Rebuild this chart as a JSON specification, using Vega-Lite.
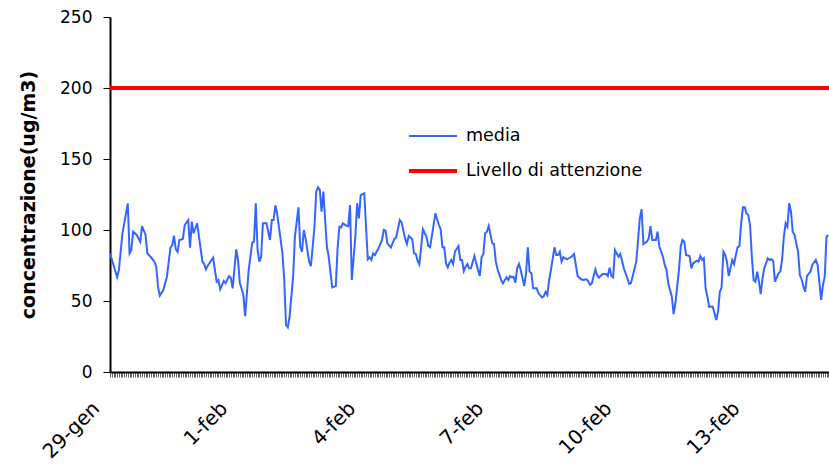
{
"$schema":"https://vega.github.io/schema/vega-lite/v6.json",
"width":719,"height":355,
"autosize":{"type":"none"},
"padding":{"left":110,"top":17,"right":0,"bottom":92},
"background":"white",
"config":{"view":{"stroke":null},"font":"DejaVu Sans"},
"data":{"values":[
{"s":"Livello di attenzione","t":"2010-01-29T00:00","v":200},{"s":"Livello di attenzione","t":"2010-02-14T20:24","v":200},
{"s":"media","t":"2010-01-29T00:00","v":83.6},{"s":"media","t":"2010-01-29T04:00","v":66.7},{"s":"media","t":"2010-01-29T05:00","v":71.8},{"s":"media","t":"2010-01-29T07:00","v":97.7},{"s":"media","t":"2010-01-29T10:00","v":118.8},{"s":"media","t":"2010-01-29T11:00","v":83.6},{"s":"media","t":"2010-01-29T12:00","v":85.9},{"s":"media","t":"2010-01-29T13:00","v":98.8},{"s":"media","t":"2010-01-29T15:00","v":96.5},{"s":"media","t":"2010-01-29T17:00","v":91.8},{"s":"media","t":"2010-01-29T18:00","v":102.8},{"s":"media","t":"2010-01-29T20:00","v":96.5},{"s":"media","t":"2010-01-29T21:00","v":83.6},{"s":"media","t":"2010-01-29T23:00","v":80.8},
{"s":"media","t":"2010-01-30T01:00","v":77.7},{"s":"media","t":"2010-01-30T02:00","v":74.2},{"s":"media","t":"2010-01-30T03:00","v":60.1},{"s":"media","t":"2010-01-30T04:00","v":53.8},{"s":"media","t":"2010-01-30T06:00","v":57.7},{"s":"media","t":"2010-01-30T08:00","v":67.1},{"s":"media","t":"2010-01-30T10:00","v":87.5},{"s":"media","t":"2010-01-30T11:00","v":89.4},{"s":"media","t":"2010-01-30T12:00","v":96},{"s":"media","t":"2010-01-30T13:00","v":86.4},{"s":"media","t":"2010-01-30T14:00","v":84.7},{"s":"media","t":"2010-01-30T15:00","v":93},{"s":"media","t":"2010-01-30T17:00","v":93.7},{"s":"media","t":"2010-01-30T18:00","v":103.5},{"s":"media","t":"2010-01-30T20:00","v":107},{"s":"media","t":"2010-01-30T21:00","v":87.5},{"s":"media","t":"2010-01-30T22:00","v":105.8},{"s":"media","t":"2010-01-30T23:00","v":97.7},
{"s":"media","t":"2010-01-31T01:00","v":104.7},{"s":"media","t":"2010-01-31T04:00","v":77.7},{"s":"media","t":"2010-01-31T05:00","v":76},{"s":"media","t":"2010-01-31T06:00","v":72.3},{"s":"media","t":"2010-01-31T07:00","v":74.9},{"s":"media","t":"2010-01-31T10:00","v":80.5},{"s":"media","t":"2010-01-31T12:00","v":63.6},{"s":"media","t":"2010-01-31T13:00","v":64.8},{"s":"media","t":"2010-01-31T14:00","v":58.2},{"s":"media","t":"2010-01-31T16:00","v":64.1},{"s":"media","t":"2010-01-31T17:00","v":62.5},{"s":"media","t":"2010-01-31T19:00","v":67.6},{"s":"media","t":"2010-01-31T20:00","v":66},{"s":"media","t":"2010-01-31T21:00","v":58.9},{"s":"media","t":"2010-01-31T23:00","v":86.4},
{"s":"media","t":"2010-02-01T00:00","v":78.9},{"s":"media","t":"2010-02-01T01:00","v":62.9},{"s":"media","t":"2010-02-01T03:00","v":54.2},{"s":"media","t":"2010-02-01T04:00","v":39.4},{"s":"media","t":"2010-02-01T06:00","v":71.8},{"s":"media","t":"2010-02-01T08:00","v":91.1},{"s":"media","t":"2010-02-01T09:00","v":91.8},{"s":"media","t":"2010-02-01T10:00","v":118.8},{"s":"media","t":"2010-02-01T11:00","v":85.9},{"s":"media","t":"2010-02-01T12:00","v":77.7},{"s":"media","t":"2010-02-01T13:00","v":81.2},{"s":"media","t":"2010-02-01T14:00","v":104.7},{"s":"media","t":"2010-02-01T16:00","v":104.7},{"s":"media","t":"2010-02-01T18:00","v":93},{"s":"media","t":"2010-02-01T19:00","v":107},{"s":"media","t":"2010-02-01T20:00","v":107},{"s":"media","t":"2010-02-01T21:00","v":117.4},{"s":"media","t":"2010-02-01T22:00","v":111.7},
{"s":"media","t":"2010-02-02T01:00","v":83.6},{"s":"media","t":"2010-02-02T02:00","v":64.8},{"s":"media","t":"2010-02-02T03:00","v":33.1},{"s":"media","t":"2010-02-02T04:00","v":31.5},{"s":"media","t":"2010-02-02T05:00","v":38.9},{"s":"media","t":"2010-02-02T07:00","v":67.1},{"s":"media","t":"2010-02-02T08:00","v":95.3},{"s":"media","t":"2010-02-02T10:00","v":116},{"s":"media","t":"2010-02-02T11:00","v":88.2},{"s":"media","t":"2010-02-02T12:00","v":84.7},{"s":"media","t":"2010-02-02T13:00","v":100},{"s":"media","t":"2010-02-02T14:00","v":94.1},{"s":"media","t":"2010-02-02T16:00","v":77.7},{"s":"media","t":"2010-02-02T17:00","v":74.6},{"s":"media","t":"2010-02-02T19:00","v":102.3},{"s":"media","t":"2010-02-02T20:00","v":127},{"s":"media","t":"2010-02-02T21:00","v":130},{"s":"media","t":"2010-02-02T22:00","v":128.2},{"s":"media","t":"2010-02-02T23:00","v":112.9},
{"s":"media","t":"2010-02-03T00:00","v":127},{"s":"media","t":"2010-02-03T02:00","v":88.2},{"s":"media","t":"2010-02-03T03:00","v":81.2},{"s":"media","t":"2010-02-03T05:00","v":59.6},{"s":"media","t":"2010-02-03T07:00","v":60.6},{"s":"media","t":"2010-02-03T08:00","v":87.1},{"s":"media","t":"2010-02-03T09:00","v":102.3},{"s":"media","t":"2010-02-03T10:00","v":101.9},{"s":"media","t":"2010-02-03T11:00","v":104.7},{"s":"media","t":"2010-02-03T13:00","v":103},{"s":"media","t":"2010-02-03T14:00","v":102.8},{"s":"media","t":"2010-02-03T15:00","v":117.6},{"s":"media","t":"2010-02-03T16:00","v":64.8},{"s":"media","t":"2010-02-03T18:00","v":95.3},{"s":"media","t":"2010-02-03T19:00","v":118.8},{"s":"media","t":"2010-02-03T20:00","v":108.2},{"s":"media","t":"2010-02-03T21:00","v":124.6},{"s":"media","t":"2010-02-03T23:00","v":125.8},
{"s":"media","t":"2010-02-04T01:00","v":79.4},{"s":"media","t":"2010-02-04T02:00","v":80.8},{"s":"media","t":"2010-02-04T03:00","v":78.9},{"s":"media","t":"2010-02-04T04:00","v":83.6},{"s":"media","t":"2010-02-04T05:00","v":82.4},{"s":"media","t":"2010-02-04T07:00","v":87.1},{"s":"media","t":"2010-02-04T09:00","v":93},{"s":"media","t":"2010-02-04T10:00","v":100},{"s":"media","t":"2010-02-04T11:00","v":99.5},{"s":"media","t":"2010-02-04T12:00","v":90.6},{"s":"media","t":"2010-02-04T14:00","v":87.8},{"s":"media","t":"2010-02-04T16:00","v":93.7},{"s":"media","t":"2010-02-04T17:00","v":94.9},{"s":"media","t":"2010-02-04T19:00","v":107},{"s":"media","t":"2010-02-04T20:00","v":105.4},{"s":"media","t":"2010-02-04T22:00","v":94.1},{"s":"media","t":"2010-02-04T23:00","v":90.1},
{"s":"media","t":"2010-02-05T00:00","v":95.8},{"s":"media","t":"2010-02-05T02:00","v":93.5},{"s":"media","t":"2010-02-05T03:00","v":83.6},{"s":"media","t":"2010-02-05T04:00","v":83.1},{"s":"media","t":"2010-02-05T05:00","v":78.4},{"s":"media","t":"2010-02-05T06:00","v":75.8},{"s":"media","t":"2010-02-05T08:00","v":100.5},{"s":"media","t":"2010-02-05T10:00","v":95.3},{"s":"media","t":"2010-02-05T11:00","v":88.7},{"s":"media","t":"2010-02-05T12:00","v":87.8},{"s":"media","t":"2010-02-05T13:00","v":95.3},{"s":"media","t":"2010-02-05T15:00","v":111.7},{"s":"media","t":"2010-02-05T17:00","v":103.5},{"s":"media","t":"2010-02-05T18:00","v":100.5},{"s":"media","t":"2010-02-05T19:00","v":87.8},{"s":"media","t":"2010-02-05T20:00","v":87.8},{"s":"media","t":"2010-02-05T21:00","v":76.5},{"s":"media","t":"2010-02-05T22:00","v":73.7},{"s":"media","t":"2010-02-05T23:00","v":77},
{"s":"media","t":"2010-02-06T00:00","v":78.9},{"s":"media","t":"2010-02-06T01:00","v":76},{"s":"media","t":"2010-02-06T02:00","v":84.7},{"s":"media","t":"2010-02-06T04:00","v":88.7},{"s":"media","t":"2010-02-06T05:00","v":78.9},{"s":"media","t":"2010-02-06T06:00","v":78.9},{"s":"media","t":"2010-02-06T07:00","v":71.1},{"s":"media","t":"2010-02-06T08:00","v":74.2},{"s":"media","t":"2010-02-06T09:00","v":76},{"s":"media","t":"2010-02-06T10:00","v":73},{"s":"media","t":"2010-02-06T11:00","v":73},{"s":"media","t":"2010-02-06T13:00","v":81.7},{"s":"media","t":"2010-02-06T14:00","v":76.5},{"s":"media","t":"2010-02-06T15:00","v":71.8},{"s":"media","t":"2010-02-06T16:00","v":67.6},{"s":"media","t":"2010-02-06T17:00","v":80.8},{"s":"media","t":"2010-02-06T18:00","v":83.1},{"s":"media","t":"2010-02-06T19:00","v":97.7},{"s":"media","t":"2010-02-06T20:00","v":98.8},{"s":"media","t":"2010-02-06T21:00","v":102.8},{"s":"media","t":"2010-02-06T23:00","v":90.6},
{"s":"media","t":"2010-02-07T00:00","v":90.1},{"s":"media","t":"2010-02-07T01:00","v":77.7},{"s":"media","t":"2010-02-07T02:00","v":72.3},{"s":"media","t":"2010-02-07T04:00","v":64.8},{"s":"media","t":"2010-02-07T05:00","v":62.5},{"s":"media","t":"2010-02-07T07:00","v":66.7},{"s":"media","t":"2010-02-07T08:00","v":64.8},{"s":"media","t":"2010-02-07T09:00","v":67.6},{"s":"media","t":"2010-02-07T10:00","v":66.7},{"s":"media","t":"2010-02-07T11:00","v":67.1},{"s":"media","t":"2010-02-07T12:00","v":62.9},{"s":"media","t":"2010-02-07T13:00","v":73},{"s":"media","t":"2010-02-07T14:00","v":76},{"s":"media","t":"2010-02-07T15:00","v":71.8},{"s":"media","t":"2010-02-07T17:00","v":60.6},{"s":"media","t":"2010-02-07T18:00","v":69.5},{"s":"media","t":"2010-02-07T19:00","v":87.8},{"s":"media","t":"2010-02-07T20:00","v":70.7},{"s":"media","t":"2010-02-07T21:00","v":69.5},{"s":"media","t":"2010-02-07T22:00","v":58.9},
{"s":"media","t":"2010-02-08T00:00","v":58.9},{"s":"media","t":"2010-02-08T01:00","v":55.4},{"s":"media","t":"2010-02-08T03:00","v":52.6},{"s":"media","t":"2010-02-08T04:00","v":53.5},{"s":"media","t":"2010-02-08T05:00","v":56.5},{"s":"media","t":"2010-02-08T06:00","v":54.2},{"s":"media","t":"2010-02-08T07:00","v":64.8},{"s":"media","t":"2010-02-08T08:00","v":71.8},{"s":"media","t":"2010-02-08T10:00","v":87.8},{"s":"media","t":"2010-02-08T11:00","v":82.4},{"s":"media","t":"2010-02-08T12:00","v":82.4},{"s":"media","t":"2010-02-08T13:00","v":84.7},{"s":"media","t":"2010-02-08T14:00","v":77.7},{"s":"media","t":"2010-02-08T15:00","v":80.8},{"s":"media","t":"2010-02-08T17:00","v":79.4},{"s":"media","t":"2010-02-08T19:00","v":80.8},{"s":"media","t":"2010-02-08T20:00","v":81.7},{"s":"media","t":"2010-02-08T21:00","v":83.1},{"s":"media","t":"2010-02-08T22:00","v":75.4},{"s":"media","t":"2010-02-08T23:00","v":67.6},
{"s":"media","t":"2010-02-09T01:00","v":65.3},{"s":"media","t":"2010-02-09T02:00","v":64.8},{"s":"media","t":"2010-02-09T04:00","v":65.3},{"s":"media","t":"2010-02-09T05:00","v":63.8},{"s":"media","t":"2010-02-09T06:00","v":61.3},{"s":"media","t":"2010-02-09T07:00","v":62.5},{"s":"media","t":"2010-02-09T09:00","v":72.3},{"s":"media","t":"2010-02-09T10:00","v":68.3},{"s":"media","t":"2010-02-09T11:00","v":66.4},{"s":"media","t":"2010-02-09T13:00","v":69},{"s":"media","t":"2010-02-09T15:00","v":69},{"s":"media","t":"2010-02-09T16:00","v":67.6},{"s":"media","t":"2010-02-09T17:00","v":73.5},{"s":"media","t":"2010-02-09T18:00","v":67.6},{"s":"media","t":"2010-02-09T19:00","v":66.7},{"s":"media","t":"2010-02-09T20:00","v":85.9},{"s":"media","t":"2010-02-09T22:00","v":81.2},{"s":"media","t":"2010-02-09T23:00","v":83.1},
{"s":"media","t":"2010-02-10T00:00","v":78.4},{"s":"media","t":"2010-02-10T01:00","v":73},{"s":"media","t":"2010-02-10T03:00","v":66},{"s":"media","t":"2010-02-10T04:00","v":62},{"s":"media","t":"2010-02-10T05:00","v":62.5},{"s":"media","t":"2010-02-10T08:00","v":77.7},{"s":"media","t":"2010-02-10T09:00","v":93},{"s":"media","t":"2010-02-10T10:00","v":108.2},{"s":"media","t":"2010-02-10T11:00","v":114.6},{"s":"media","t":"2010-02-10T12:00","v":90.1},{"s":"media","t":"2010-02-10T14:00","v":91.8},{"s":"media","t":"2010-02-10T15:00","v":94.1},{"s":"media","t":"2010-02-10T16:00","v":102.8},{"s":"media","t":"2010-02-10T17:00","v":93},{"s":"media","t":"2010-02-10T19:00","v":93},{"s":"media","t":"2010-02-10T20:00","v":98.8},{"s":"media","t":"2010-02-10T21:00","v":88.2},{"s":"media","t":"2010-02-10T23:00","v":81.2},
{"s":"media","t":"2010-02-11T00:00","v":75.4},{"s":"media","t":"2010-02-11T01:00","v":71.8},{"s":"media","t":"2010-02-11T02:00","v":62.5},{"s":"media","t":"2010-02-11T04:00","v":53},{"s":"media","t":"2010-02-11T05:00","v":40.8},{"s":"media","t":"2010-02-11T06:00","v":48.4},{"s":"media","t":"2010-02-11T08:00","v":71.8},{"s":"media","t":"2010-02-11T09:00","v":88.2},{"s":"media","t":"2010-02-11T10:00","v":93},{"s":"media","t":"2010-02-11T11:00","v":91.8},{"s":"media","t":"2010-02-11T12:00","v":82.4},{"s":"media","t":"2010-02-11T14:00","v":81.7},{"s":"media","t":"2010-02-11T15:00","v":73},{"s":"media","t":"2010-02-11T16:00","v":76.5},{"s":"media","t":"2010-02-11T18:00","v":78.4},{"s":"media","t":"2010-02-11T19:00","v":77.7},{"s":"media","t":"2010-02-11T20:00","v":81.7},{"s":"media","t":"2010-02-11T21:00","v":78.9},{"s":"media","t":"2010-02-11T22:00","v":80.1},{"s":"media","t":"2010-02-11T23:00","v":58.9},
{"s":"media","t":"2010-02-12T00:00","v":53},{"s":"media","t":"2010-02-12T01:00","v":46},{"s":"media","t":"2010-02-12T03:00","v":46},{"s":"media","t":"2010-02-12T05:00","v":36.6},{"s":"media","t":"2010-02-12T06:00","v":42.5},{"s":"media","t":"2010-02-12T07:00","v":56.5},{"s":"media","t":"2010-02-12T08:00","v":59.6},{"s":"media","t":"2010-02-12T09:00","v":84.7},{"s":"media","t":"2010-02-12T10:00","v":82.4},{"s":"media","t":"2010-02-12T11:00","v":77.7},{"s":"media","t":"2010-02-12T12:00","v":67.6},{"s":"media","t":"2010-02-12T14:00","v":78.9},{"s":"media","t":"2010-02-12T15:00","v":76},{"s":"media","t":"2010-02-12T16:00","v":82.4},{"s":"media","t":"2010-02-12T17:00","v":87.8},{"s":"media","t":"2010-02-12T18:00","v":88.7},{"s":"media","t":"2010-02-12T19:00","v":104.7},{"s":"media","t":"2010-02-12T20:00","v":116},{"s":"media","t":"2010-02-12T21:00","v":116},{"s":"media","t":"2010-02-12T22:00","v":111.7},{"s":"media","t":"2010-02-12T23:00","v":110.6},
{"s":"media","t":"2010-02-13T00:00","v":103.5},{"s":"media","t":"2010-02-13T01:00","v":81.2},{"s":"media","t":"2010-02-13T02:00","v":64.8},{"s":"media","t":"2010-02-13T03:00","v":63.6},{"s":"media","t":"2010-02-13T04:00","v":70.7},{"s":"media","t":"2010-02-13T05:00","v":63.6},{"s":"media","t":"2010-02-13T06:00","v":54.9},{"s":"media","t":"2010-02-13T07:00","v":66},{"s":"media","t":"2010-02-13T08:00","v":73},{"s":"media","t":"2010-02-13T10:00","v":80.1},{"s":"media","t":"2010-02-13T11:00","v":78.9},{"s":"media","t":"2010-02-13T12:00","v":79.4},{"s":"media","t":"2010-02-13T13:00","v":78.4},{"s":"media","t":"2010-02-13T14:00","v":63.6},{"s":"media","t":"2010-02-13T16:00","v":69.5},{"s":"media","t":"2010-02-13T17:00","v":70.7},{"s":"media","t":"2010-02-13T18:00","v":78.9},{"s":"media","t":"2010-02-13T19:00","v":95.3},{"s":"media","t":"2010-02-13T20:00","v":104.7},{"s":"media","t":"2010-02-13T21:00","v":102.3},{"s":"media","t":"2010-02-13T22:00","v":118.8},{"s":"media","t":"2010-02-13T23:00","v":112.9},
{"s":"media","t":"2010-02-14T00:00","v":98.8},{"s":"media","t":"2010-02-14T01:00","v":96.5},{"s":"media","t":"2010-02-14T02:00","v":90.6},{"s":"media","t":"2010-02-14T03:00","v":84.7},{"s":"media","t":"2010-02-14T04:00","v":68.3},{"s":"media","t":"2010-02-14T05:00","v":65.3},{"s":"media","t":"2010-02-14T06:00","v":60.1},{"s":"media","t":"2010-02-14T07:00","v":56.5},{"s":"media","t":"2010-02-14T08:00","v":67.6},{"s":"media","t":"2010-02-14T10:00","v":70.7},{"s":"media","t":"2010-02-14T11:00","v":75.4},{"s":"media","t":"2010-02-14T13:00","v":78.9},{"s":"media","t":"2010-02-14T14:00","v":75.4},{"s":"media","t":"2010-02-14T16:00","v":50.7},{"s":"media","t":"2010-02-14T17:00","v":61.3},{"s":"media","t":"2010-02-14T18:00","v":67.1},{"s":"media","t":"2010-02-14T19:00","v":95.3},{"s":"media","t":"2010-02-14T20:00","v":96.5}
]},
"mark":{"type":"line","clip":true},
"encoding":{
 "x":{"field":"t","type":"temporal",
  "scale":{"domain":[{"year":2010,"month":"jan","date":29,"hours":0},{"year":2010,"month":"feb","date":14,"hours":20,"minutes":24}],"nice":false},
  "axis":{"title":null,"tickCount":404,"grid":false,"domainColor":"black","domainWidth":2,"tickColor":"#666","tickSize":5,"tickWidth":1,
   "labelExpr":"hours(datum.value)==0 && round((datum.value - datetime(2010,0,29))/86400000) % 3 == 0 ? (date(datum.value) + '-' + (month(datum.value)==0 ? 'gen' : 'feb')) : ''",
   "labelAngle":-45,"labelOverlap":false,"labelBound":false,"labelFlush":false,"labelFont":"DejaVu Sans","labelFontSize":20,"labelColor":"black","labelPadding":21,"labelOffset":-21}},
 "y":{"field":"v","type":"quantitative",
  "scale":{"domain":[0,250],"nice":false},
  "axis":{"title":"concentrazione(ug/m3)","values":[0,50,100,150,200,250],"grid":false,"domainColor":"black","domainWidth":2,"tickColor":"black","tickSize":7,"labelFont":"DejaVu Sans","labelFontSize":17,"labelColor":"black","labelPadding":11,"titleFont":"DejaVu Sans","titleFontSize":19,"titleFontWeight":"bold","titleColor":"black","titlePadding":21}},
 "color":{"field":"s","type":"nominal",
  "scale":{"domain":["media","Livello di attenzione"],"range":["#3366FF","#FF0000"]},
  "legend":{"title":null,"orient":"none","legendX":297,"legendY":94,"symbolType":"stroke","symbolSize":2304,"labelFont":"DejaVu Sans","labelFontSize":17.5,"labelColor":"black","labelLimit":0,"rowPadding":0,"labelOffset":7}},
 "strokeWidth":{"field":"s","type":"nominal",
  "scale":{"domain":["media","Livello di attenzione"],"range":[2,4]},
  "legend":{"title":null,"orient":"none","legendX":297,"legendY":94,"symbolType":"stroke","symbolSize":2304,"labelFont":"DejaVu Sans","labelFontSize":17.5,"labelColor":"black","labelLimit":0,"rowPadding":0,"labelOffset":7}}
}
}
